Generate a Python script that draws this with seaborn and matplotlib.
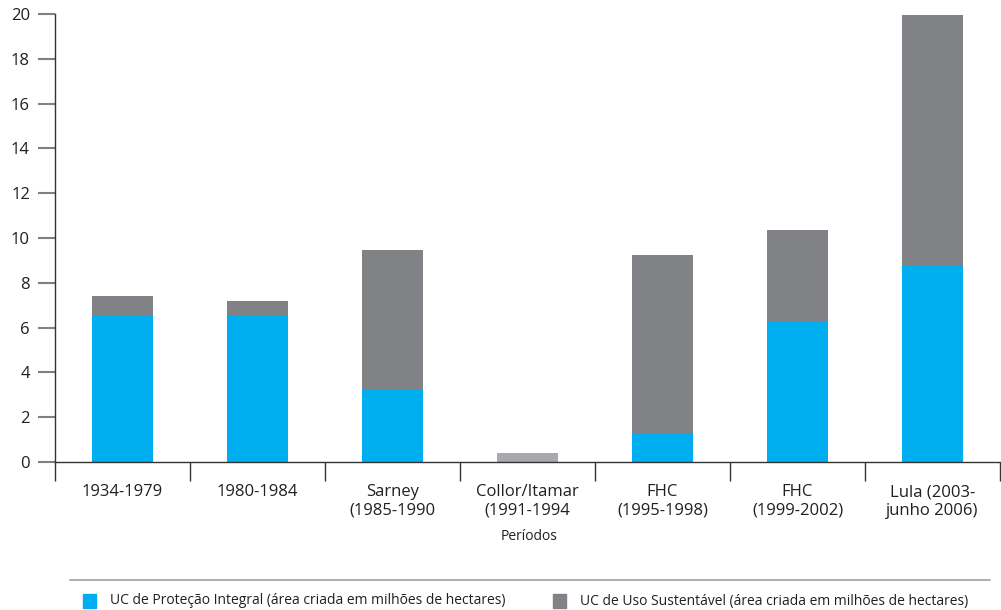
import numpy as np
import pandas as pd
import matplotlib
matplotlib.use("Agg")
import matplotlib.pyplot as plt
import seaborn as sns
from matplotlib.patches import Rectangle
from matplotlib.lines import Line2D

periodos = ["1934-1979", "1980-1984", "Sarney\n(1985-1990", "Collor/Itamar\n(1991-1994",
            "FHC\n(1995-1998)", "FHC\n(1999-2002)", "Lula (2003-\njunho 2006)"]
protecao_integral = [6.52, 6.56, 3.26, 0.0, 1.29, 6.29, 8.79]
uso_sustentavel = [0.89, 0.63, 6.20, 0.40, 7.95, 4.07, 11.17]

azul = "#00aeef"
cinza = "#808285"
cinza_claro = "#a7a9ac"

df = pd.DataFrame({"periodo": periodos,
                   "integral": protecao_integral,
                   "sustentavel": uso_sustentavel})
df["total"] = df["integral"] + df["sustentavel"]

sns.set_style("white")
plt.rcParams["font.family"] = ["Open Sans", "DejaVu Sans"]

fig = plt.figure(figsize=(10.01, 6.10), dpi=100)
ax = fig.add_axes([55 / 1001, 148 / 610, 945 / 1001, 448 / 610])

sns.barplot(data=df, x="periodo", y="total", color=cinza, width=0.45,
            saturation=1, ax=ax)
sns.barplot(data=df, x="periodo", y="integral", color=azul, width=0.45,
            saturation=1, ax=ax)
# Collor/Itamar bar drawn in a lighter grey
ax.patches[3].set_facecolor(cinza_claro)
for p in ax.patches:
    p.set_edgecolor("none")

ax.set_ylim(0, 20)
ax.set_xlim(-0.5, 6.5)
ax.set_yticks(range(0, 21, 2))
ax.set_xlabel("")
ax.set_ylabel("")

for s in ["top", "right"]:
    ax.spines[s].set_visible(False)
for s in ["left", "bottom"]:
    ax.spines[s].set_color("#333333")
    ax.spines[s].set_linewidth(1.0)

ax.tick_params(axis="y", length=12, width=1.5, color="#808080",
               labelsize=12, labelcolor="#231f20", pad=6, left=True)
ax.tick_params(axis="x", which="major", length=0, labelsize=12,
               labelcolor="#231f20", pad=16)
ax.set_xticks(np.arange(-0.5, 7, 1), minor=True)
ax.tick_params(axis="x", which="minor", length=14, width=1.0,
               color="#333333", bottom=True)

fig.text(529 / 1001, 1 - 537 / 610, "Períodos", ha="center", va="center",
         fontsize=10, color="#231f20")

# legend with rule line
fig.add_artist(Line2D([70 / 1001, 990 / 1001], [1 - 580 / 610, 1 - 580 / 610],
                      color="#a0a0a0", lw=1.2, transform=fig.transFigure))
leg_y = 1 - 601 / 610
for x0, col, txt in [(83, azul, "UC de Proteção Integral (área criada em milhões de hectares)"),
                     (553, cinza, "UC de Uso Sustentável (área criada em milhões de hectares)")]:
    fig.add_artist(Rectangle((x0 / 1001, 1 - 608 / 610), 13 / 1001, 14 / 610,
                             color=col, transform=fig.transFigure))
    fig.text((x0 + 27) / 1001, leg_y, txt, ha="left", va="center",
             fontsize=10, color="#231f20")

fig.savefig("out.png", dpi=100)
